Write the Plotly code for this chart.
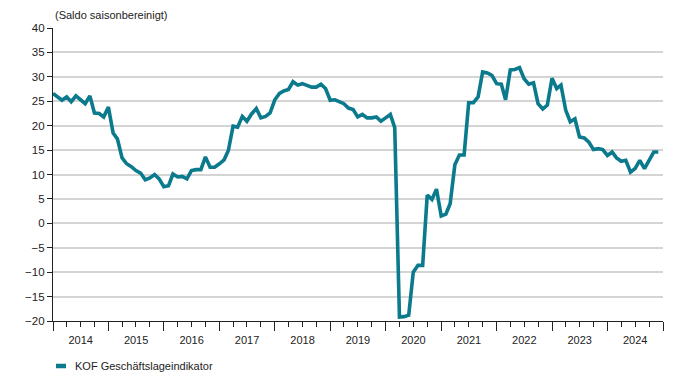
import plotly.graph_objects as go
import pandas as pd

# Monthly values, Jan 2014 .. Dec 2024
values_2014 = [26.6, 25.9, 25.2, 25.9, 24.9, 26.1, 25.3, 24.5, 26.1, 22.6, 22.5, 21.8]
values_2015 = [23.8, 18.5, 17.3, 13.4, 12.2, 11.6, 10.8, 10.3, 8.9, 9.3, 10.0, 9.1]
values_2016 = [7.5, 7.7, 10.1, 9.5, 9.6, 9.1, 10.8, 11.0, 11.0, 13.6, 11.5, 11.5]
values_2017 = [12.2, 13.0, 14.9, 19.9, 19.7, 21.9, 20.9, 22.4, 23.5, 21.6, 21.9, 22.6]
values_2018 = [25.3, 26.6, 27.1, 27.4, 29.0, 28.3, 28.6, 28.3, 27.9, 27.9, 28.5, 27.6]
values_2019 = [25.2, 25.3, 24.9, 24.5, 23.6, 23.3, 21.8, 22.3, 21.6, 21.6, 21.8, 20.9]
values_2020 = [21.6, 22.3, 19.6, -19.2, -19.1, -18.8, -10.0, -8.6, -8.6, 5.8, 4.9, 7.0]
values_2021 = [1.5, 1.9, 4.0, 12.0, 14.0, 14.0, 24.7, 24.7, 25.9, 31.0, 30.8, 30.3]
values_2022 = [28.6, 28.5, 25.3, 31.4, 31.5, 31.9, 29.6, 28.5, 28.8, 24.5, 23.4, 24.2]
values_2023 = [29.7, 27.6, 28.3, 23.2, 20.8, 21.4, 17.7, 17.5, 16.6, 15.1, 15.3, 15.1]
values_2024 = [13.9, 14.6, 13.4, 12.7, 12.9, 10.5, 11.2, 12.9, 11.2, 13.0, 14.6, 14.6]

values = (values_2014 + values_2015 + values_2016 + values_2017 + values_2018 + values_2019
          + values_2020 + values_2021 + values_2022 + values_2023 + values_2024)
dates = pd.date_range("2014-01-01", periods=len(values), freq="MS")

series_name = "KOF Geschäftslageindikator"
y_title = "(Saldo saisonbereinigt)"
y_ticks = list(range(-20, 41, 5))

font_family = "Liberation Sans, Arial, sans-serif"
line_color = "#0b7a8d"
text_color = "#222222"

# The page body has an 8px default margin; size the figure so the whole page is 696x380.
OFF = 8
W, H = 696 - 2 * OFF, 380 - 2 * OFF
ML, MR, MT, MB = 45, 25, 20, 51
PW, PH = W - ML - MR, H - MT - MB


def px_x(x):
    # page pixel -> paper coordinate
    return (x - OFF - ML) / PW


def px_y(y):
    return (H - MB - (y - OFF)) / PH


fig = go.Figure()
fig.add_trace(go.Scatter(
    x=dates, y=values, mode="lines", name=series_name,
    line=dict(color=line_color, width=3.6), showlegend=False,
))

fig.update_layout(
    width=W, height=H,
    margin=dict(l=ML, r=MR, t=MT, b=MB),
    paper_bgcolor="white", plot_bgcolor="white",
    font=dict(family=font_family, size=11, color=text_color),
    showlegend=False,
    annotations=[
        dict(text=y_title, xref="paper", yref="paper", x=0, y=1,
             xanchor="left", yanchor="bottom", yshift=5, showarrow=False,
             font=dict(size=11, color=text_color)),
        dict(text=series_name, xref="paper", yref="paper", x=px_x(73), y=px_y(366),
             xanchor="left", yanchor="middle", showarrow=False,
             font=dict(size=11, color=text_color)),
    ],
    shapes=[
        dict(type="line", xref="paper", yref="paper",
             x0=px_x(56), x1=px_x(66), y0=px_y(366), y1=px_y(366),
             line=dict(color=line_color, width=4.5)),
    ],
)

fig.update_xaxes(
    type="date",
    range=["2014-01-01", "2025-01-01"],
    tick0="2014-01-01", dtick="M12", tickformat="%Y",
    ticklabelmode="period",
    ticks="outside", ticklen=9, tickcolor=text_color, tickwidth=1,
    minor=dict(dtick="M3", ticks="outside", ticklen=5, tickcolor=text_color, tickwidth=1, showgrid=False),
    showline=True, linecolor=text_color, linewidth=1.2,
    showgrid=False, zeroline=False,
    tickfont=dict(size=11, color=text_color),
)
fig.update_yaxes(
    range=[-20, 40], tickvals=y_ticks,
    ticks="outside", ticklen=5, tickcolor=text_color, tickwidth=1,
    showline=True, linecolor=text_color, linewidth=1.2,
    showgrid=True, gridcolor="#d4d4d4", gridwidth=1.5,
    zeroline=False,
    tickfont=dict(size=11.5, color=text_color),
)

fig.write_html("out.html")
